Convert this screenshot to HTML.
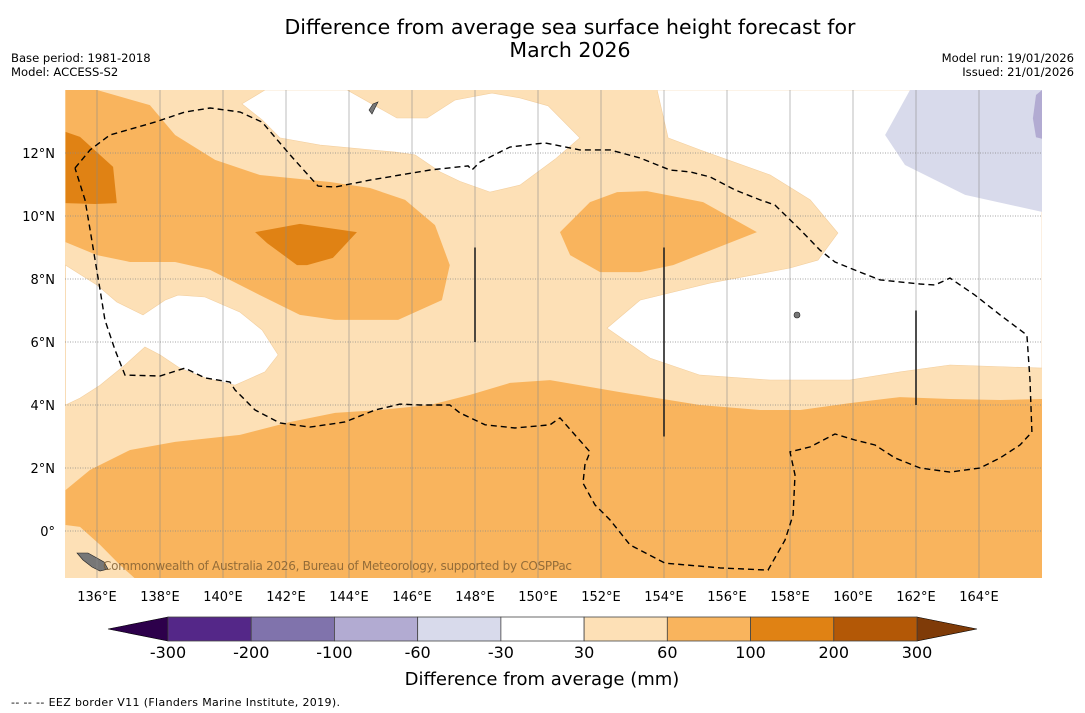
<!DOCTYPE html>
<html><head><meta charset="utf-8">
<style>
body{margin:0;background:#fff;font-family:"Liberation Sans","DejaVu Sans",sans-serif;}
#wrap{position:relative;width:1085px;height:713px;overflow:hidden;background:#fff}
svg text{font-family:"DejaVu Sans","Liberation Sans",sans-serif}
</style></head>
<body>
<div id="wrap">
<svg id="svg" width="1085" height="713">
<text x="570" y="34" text-anchor="middle" font-size="20.5">Difference from average sea surface height forecast for</text>
<text x="570" y="57" text-anchor="middle" font-size="20.5">March 2026</text>
<text x="11" y="62" font-size="11.6">Base period: 1981-2018</text>
<text x="11" y="76" font-size="11.6">Model: ACCESS-S2</text>
<text x="1074" y="62" font-size="11.6" text-anchor="end">Model run: 19/01/2026</text>
<text x="1074" y="76" font-size="11.6" text-anchor="end">Issued: 21/01/2026</text>
<defs><clipPath id="mapclip"><rect x="65" y="90" width="977" height="488"/></clipPath></defs>
<g id="map" clip-path="url(#mapclip)"></g>
<g id="axes"></g>
<g id="cbar"></g>
<text x="542" y="685" text-anchor="middle" font-size="18">Difference from average (mm)</text>
<text x="11" y="706" font-size="11" textLength="329">--  --  -- EEZ border V11 (Flanders Marine Institute, 2019).</text>
</svg>
</div>
<script>
// colour levels
const levels=[-300,-200,-100,-60,-30,30,60,100,200,300];
const levelColors=["#542788","#8073ac","#b2abd2","#d8daeb","#ffffff","#fde0b6","#f9b45d","#e08214","#b35806"];
const extendColors=["#2d004b","#7f3b08"];
const lonTicks=[136,138,140,142,144,146,148,150,152,154,156,158,160,162,164];
const latTicks=[0,2,4,6,8,10,12];
// contour polygons [lon,lat]
const whiteA=[[140.6,13.56],[141.33,14],[143.94,14],[145.52,13.11],[146.48,13.11],[147.36,13.68],[148.54,13.9],[149.43,13.75],[150.32,13.5],[151.33,12.48],[150.54,11.8],[149.43,10.98],[148.48,10.76],[147.52,11.1],[146.89,11.4],[146.1,11.94],[145.46,12.03],[143.08,12.25],[141.81,12.48],[141.24,13.05]];
const whiteB=[[153.78,14],[166,14],[166,5.17],[163.08,5.27],[161.49,5.05],[159.9,4.79],[157.37,4.79],[155.14,4.95],[153.56,5.49],[152.19,6.44],[153.24,7.33],[155.46,7.87],[158.0,8.35],[158.89,8.6],[159.52,9.46],[158.64,10.51],[157.37,11.3],[155.14,12.1],[154.13,12.48]];
const whiteC=[[135,8.44],[136.0,7.81],[136.63,7.27],[137.46,6.86],[138.16,7.33],[138.57,7.49],[139.43,7.43],[140.54,6.95],[141.24,6.38],[141.75,5.59],[141.33,5.05],[140.38,4.63],[139.43,4.86],[138.63,5.17],[138.0,5.59],[137.52,5.84],[136.89,5.27],[136.1,4.63],[135.46,4.22],[135,4.0]];
const purple1=[[161.81,14],[161.02,12.57],[161.65,11.62],[163.56,10.67],[166,10.13],[166,14]];
const purple2=[[165.81,13.84],[165.71,13.1],[165.81,12.5],[166,12.45],[166,14]];
const mediumTop=[[135,14],[136.0,14],[137.68,13.52],[138.48,12.57],[139.75,11.78],[141.17,11.3],[143.4,11.08],[144.67,10.89],[145.78,10.51],[146.73,9.71],[147.2,8.44],[146.95,7.33],[145.56,6.7],[143.56,6.7],[142.44,6.86],[141.17,7.49],[139.59,8.29],[138.48,8.54],[137.05,8.54],[136.0,8.76],[135,9.17]];
const mediumMid=[[150.7,9.49],[151.65,10.44],[152.51,10.76],[153.46,10.79],[155.24,10.44],[156.95,9.49],[154.29,8.44],[153.24,8.22],[151.97,8.22],[151.02,8.76]];
const mediumBottom=[[135,1.3],[135.78,1.94],[137.05,2.57],[138.48,2.83],[140.54,3.05],[142.13,3.46],[143.56,3.75],[144.98,3.84],[146.57,4.0],[147.84,4.32],[149.11,4.7],[150.38,4.79],[151.33,4.63],[152.6,4.41],[155.14,4.0],[157.05,3.84],[158.33,3.84],[159.9,4.06],[161.49,4.25],[163.08,4.19],[164.67,4.16],[166,4.19],[166,-1.5],[137.2,-1.5],[136.73,-1.08],[136.1,-0.44],[135.46,0.13],[135,0.19]];
const darkLeft=[[135,12.67],[135.46,12.51],[136.51,11.56],[136.63,10.41],[135.94,10.38],[135,10.41]];
const darkMid=[[141.02,9.49],[142.44,9.75],[144.25,9.49],[143.49,8.67],[142.67,8.44],[142.35,8.44],[141.4,9.14]];
const eez=[[135.3,11.52],[135.78,12.1],[136.41,12.57],[137.84,12.98],[138.79,13.3],[139.59,13.43],[140.54,13.3],[141.24,12.98],[142.13,11.94],[143.02,10.95],[143.56,10.92],[144.67,11.14],[145.62,11.3],[146.57,11.46],[147.78,11.59],[147.9,11.46],[148.16,11.71],[149.11,12.19],[150.22,12.32],[151.33,12.1],[152.29,12.1],[153.24,11.84],[154.19,11.46],[154.83,11.4],[155.46,11.24],[156.25,10.83],[157.05,10.51],[157.52,10.35],[158.33,9.56],[158.95,8.92],[159.43,8.54],[160.22,8.22],[160.86,7.97],[162.13,7.84],[162.6,7.81],[163.08,8.03],[163.87,7.49],[164.67,6.86],[165.52,6.22],[165.62,4.79],[165.68,3.14],[165.3,2.73],[164.67,2.32],[164.03,2.0],[163.08,1.87],[162.13,2.0],[161.33,2.32],[160.7,2.73],[160.06,2.89],[159.43,3.08],[158.64,2.67],[158.0,2.51],[158.16,1.78],[158.1,0.51],[157.84,-0.29],[157.3,-1.24],[155.78,-1.17],[154.03,-1.02],[152.92,-0.44],[152.29,0.35],[151.81,0.83],[151.43,1.52],[151.49,2.1],[151.65,2.51],[151.17,3.05],[150.7,3.59],[150.38,3.37],[149.27,3.27],[148.32,3.37],[147.52,3.75],[147.2,4.0],[146.25,4.0],[145.62,4.03],[144.83,3.84],[143.87,3.46],[142.76,3.3],[141.81,3.43],[141.02,3.84],[140.38,4.48],[140.22,4.73],[139.43,4.86],[138.79,5.17],[138.0,4.92],[136.89,4.95],[136.57,5.75],[136.25,6.7],[136.1,7.65],[135.94,8.6],[135.78,9.56],[135.62,10.51],[135.3,11.52]];
const vlines=[[148,9,6],[154,9,3],[162,7,4]];

const X=lon=>65.5+(lon-135)*31.5;
const Y=lat=>531-lat*31.5;
const NS="http://www.w3.org/2000/svg";
function mk(tag,parent,attrs){const e=document.createElementNS(NS,tag);for(const k in attrs)e.setAttribute(k,attrs[k]);parent.appendChild(e);return e;}
const map=document.getElementById('map');
const bg=mk('rect',map,{x:65,y:90,width:977,height:488,fill:levelColors[5]});


function poly(pts,color,name){
  const p=mk('polygon',map,{points:pts.map(q=>X(q[0]).toFixed(1)+','+Y(q[1]).toFixed(1)).join(' '),fill:color,stroke:color==='#ffffff'?'#f3cf9f':'none','stroke-width':0.6});
  
  
}
poly(whiteA,levelColors[4],'contour-near-average-north');
poly(whiteB,levelColors[4],'contour-near-average-east');
poly(whiteC,levelColors[4],'contour-near-average-west');
poly(purple1,levelColors[3],'contour-minus60-30');
poly(purple2,levelColors[2],'contour-minus100-60');
poly(mediumTop,levelColors[6],'contour-60-100-northwest');
poly(mediumMid,levelColors[6],'contour-60-100-central');
poly(mediumBottom,levelColors[6],'contour-60-100-south');
poly(darkLeft,levelColors[7],'contour-100-200-west');
poly(darkMid,levelColors[7],'contour-100-200-central');
// islands
const isl1=mk('polygon',map,{points:"77,553 88,553 97,558 104,562 108,569 100,571 92,567 83,560",fill:"#777",stroke:"#222","stroke-width":0.6});


const isl2=mk('polygon',map,{points:"369,110 373,104 378,102 375,108 372,114",fill:"#777",stroke:"#222","stroke-width":0.6});


const isl3=mk('circle',map,{cx:797,cy:315,r:3,fill:"#777",stroke:"#222","stroke-width":0.6});


// grid
lonTicks.forEach(l=>{const g=mk('line',map,{x1:X(l),x2:X(l),y1:90,y2:578,stroke:'#888','stroke-width':0.7,opacity:0.8});

});
latTicks.forEach(l=>{const g=mk('line',map,{x1:65,x2:1042,y1:Y(l),y2:Y(l),stroke:'#888','stroke-width':0.8,'stroke-dasharray':'1,1.5'});

});
// eez
const ez=mk('polyline',map,{points:eez.map(q=>X(q[0]).toFixed(1)+','+Y(q[1]).toFixed(1)).join(' '),fill:'none',stroke:'#000','stroke-width':1.4,'stroke-dasharray':'6,4'});


vlines.forEach(v=>{const l=mk('line',map,{x1:X(v[0]),x2:X(v[0]),y1:Y(v[1]),y2:Y(v[2]),stroke:'#222','stroke-width':1.6});

});
const wm=mk('text',map,{x:103,y:570,'font-size':12,fill:'#7a5a30','fill-opacity':0.8,textLength:469});
wm.textContent='Commonwealth of Australia 2026, Bureau of Meteorology, supported by COSPPac';


// axes labels
const axes=document.getElementById('axes');
lonTicks.forEach(l=>{const t=mk('text',axes,{x:X(l),y:601,'text-anchor':'middle','font-size':13});t.textContent=l+'°E';

});
latTicks.forEach(l=>{const t=mk('text',axes,{x:55,y:Y(l)+5,'text-anchor':'end','font-size':13});t.textContent=l===0?'0°':l+'°N';

});
// colorbar
const cb=document.getElementById('cbar');
const cx0=168,cx1=917,cy=617,ch=24,seg=(cx1-cx0)/levelColors.length;
const triL=mk('polygon',cb,{points:`${cx0},${cy} 108,${cy+ch/2} ${cx0},${cy+ch}`,fill:extendColors[0],stroke:'#000','stroke-width':0.6});


const triR=mk('polygon',cb,{points:`${cx1},${cy} 977,${cy+ch/2} ${cx1},${cy+ch}`,fill:extendColors[1],stroke:'#000','stroke-width':0.6});


levelColors.forEach((c,i)=>{const r=mk('rect',cb,{x:cx0+i*seg,y:cy,width:seg,height:ch,fill:c,stroke:'#444','stroke-width':0.8});

});
levels.forEach((v,i)=>{const t=mk('text',cb,{x:cx0+i*seg,y:658,'text-anchor':'middle','font-size':16});t.textContent=v;

});
</script>
</body></html>
